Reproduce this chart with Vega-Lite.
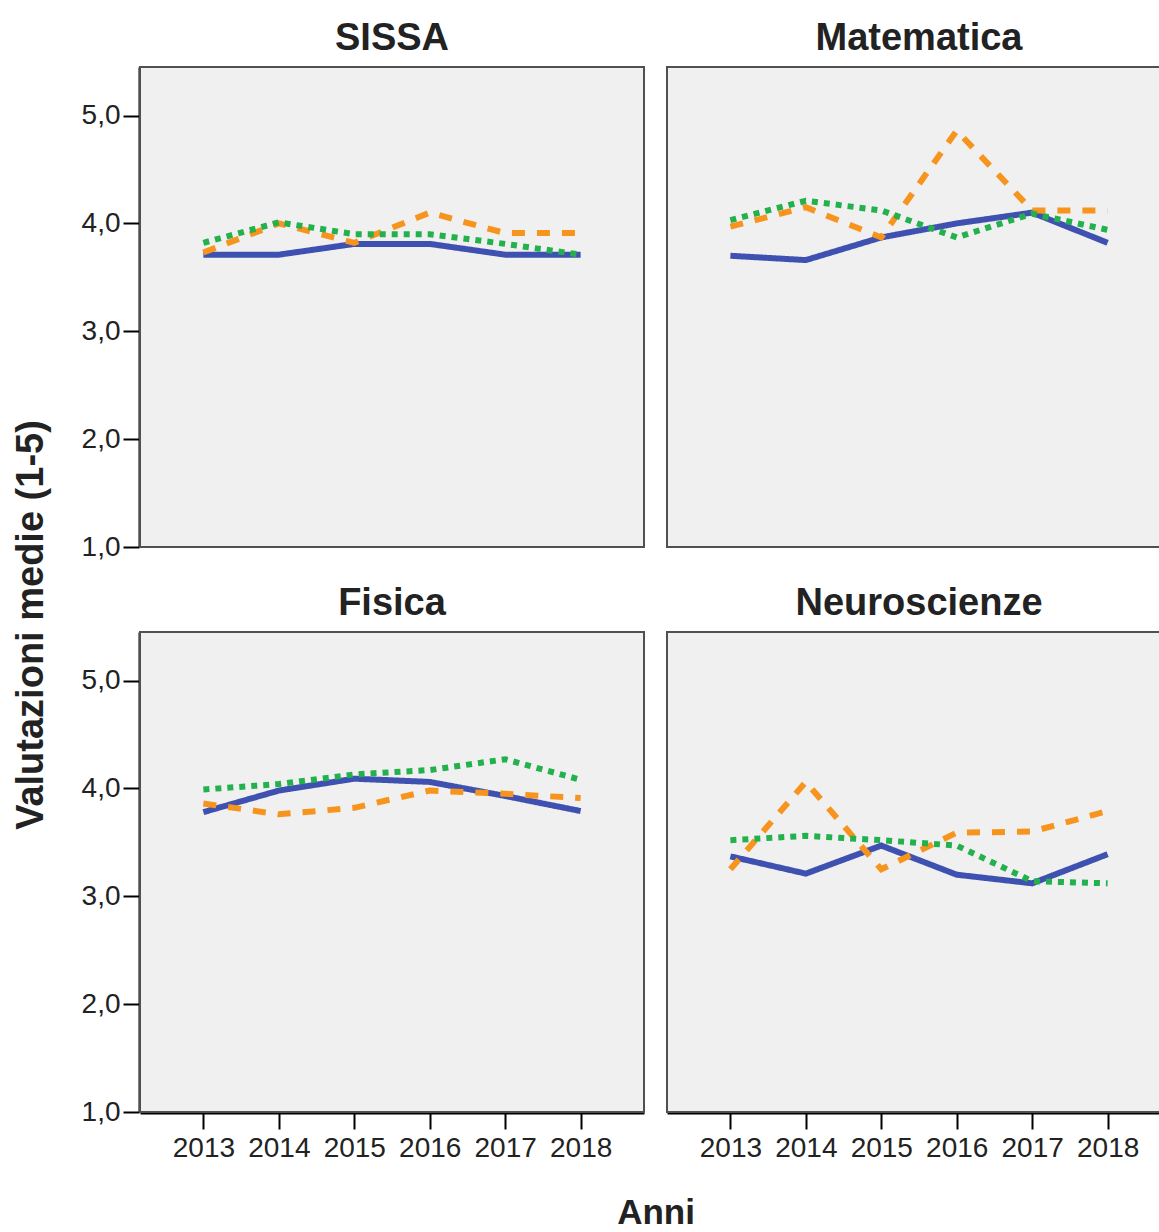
{
  "$schema": "https://vega.github.io/schema/vega-lite/v6.json",
  "background": "white",
  "padding": {"left": 13, "top": 19, "right": 0, "bottom": 0},
  "title": {
    "text": "Valutazioni medie (1-5)",
    "orient": "left",
    "anchor": "middle",
    "fontSize": 38,
    "fontWeight": "bold",
    "color": "#222",
    "offset": 30
  },
  "data": {
    "values": [
      {"corso": "SISSA", "anno": 2013, "serie": "A", "valore": 3.71},
      {"corso": "SISSA", "anno": 2014, "serie": "A", "valore": 3.71},
      {"corso": "SISSA", "anno": 2015, "serie": "A", "valore": 3.81},
      {"corso": "SISSA", "anno": 2016, "serie": "A", "valore": 3.81},
      {"corso": "SISSA", "anno": 2017, "serie": "A", "valore": 3.71},
      {"corso": "SISSA", "anno": 2018, "serie": "A", "valore": 3.71},
      {"corso": "SISSA", "anno": 2013, "serie": "B", "valore": 3.73},
      {"corso": "SISSA", "anno": 2014, "serie": "B", "valore": 4.0},
      {"corso": "SISSA", "anno": 2015, "serie": "B", "valore": 3.82},
      {"corso": "SISSA", "anno": 2016, "serie": "B", "valore": 4.1},
      {"corso": "SISSA", "anno": 2017, "serie": "B", "valore": 3.91},
      {"corso": "SISSA", "anno": 2018, "serie": "B", "valore": 3.91},
      {"corso": "SISSA", "anno": 2013, "serie": "C", "valore": 3.82},
      {"corso": "SISSA", "anno": 2014, "serie": "C", "valore": 4.01},
      {"corso": "SISSA", "anno": 2015, "serie": "C", "valore": 3.9},
      {"corso": "SISSA", "anno": 2016, "serie": "C", "valore": 3.9},
      {"corso": "SISSA", "anno": 2017, "serie": "C", "valore": 3.81},
      {"corso": "SISSA", "anno": 2018, "serie": "C", "valore": 3.71},

      {"corso": "Matematica", "anno": 2013, "serie": "A", "valore": 3.7},
      {"corso": "Matematica", "anno": 2014, "serie": "A", "valore": 3.66},
      {"corso": "Matematica", "anno": 2015, "serie": "A", "valore": 3.87},
      {"corso": "Matematica", "anno": 2016, "serie": "A", "valore": 4.0},
      {"corso": "Matematica", "anno": 2017, "serie": "A", "valore": 4.1},
      {"corso": "Matematica", "anno": 2018, "serie": "A", "valore": 3.82},
      {"corso": "Matematica", "anno": 2013, "serie": "B", "valore": 3.97},
      {"corso": "Matematica", "anno": 2014, "serie": "B", "valore": 4.15},
      {"corso": "Matematica", "anno": 2015, "serie": "B", "valore": 3.87},
      {"corso": "Matematica", "anno": 2016, "serie": "B", "valore": 4.86},
      {"corso": "Matematica", "anno": 2017, "serie": "B", "valore": 4.12},
      {"corso": "Matematica", "anno": 2018, "serie": "B", "valore": 4.12},
      {"corso": "Matematica", "anno": 2013, "serie": "C", "valore": 4.03},
      {"corso": "Matematica", "anno": 2014, "serie": "C", "valore": 4.21},
      {"corso": "Matematica", "anno": 2015, "serie": "C", "valore": 4.12},
      {"corso": "Matematica", "anno": 2016, "serie": "C", "valore": 3.87},
      {"corso": "Matematica", "anno": 2017, "serie": "C", "valore": 4.09},
      {"corso": "Matematica", "anno": 2018, "serie": "C", "valore": 3.94},

      {"corso": "Fisica", "anno": 2013, "serie": "A", "valore": 3.78},
      {"corso": "Fisica", "anno": 2014, "serie": "A", "valore": 3.98},
      {"corso": "Fisica", "anno": 2015, "serie": "A", "valore": 4.09},
      {"corso": "Fisica", "anno": 2016, "serie": "A", "valore": 4.06},
      {"corso": "Fisica", "anno": 2017, "serie": "A", "valore": 3.93},
      {"corso": "Fisica", "anno": 2018, "serie": "A", "valore": 3.79},
      {"corso": "Fisica", "anno": 2013, "serie": "B", "valore": 3.86},
      {"corso": "Fisica", "anno": 2014, "serie": "B", "valore": 3.76},
      {"corso": "Fisica", "anno": 2015, "serie": "B", "valore": 3.82},
      {"corso": "Fisica", "anno": 2016, "serie": "B", "valore": 3.98},
      {"corso": "Fisica", "anno": 2017, "serie": "B", "valore": 3.95},
      {"corso": "Fisica", "anno": 2018, "serie": "B", "valore": 3.91},
      {"corso": "Fisica", "anno": 2013, "serie": "C", "valore": 3.99},
      {"corso": "Fisica", "anno": 2014, "serie": "C", "valore": 4.04},
      {"corso": "Fisica", "anno": 2015, "serie": "C", "valore": 4.13},
      {"corso": "Fisica", "anno": 2016, "serie": "C", "valore": 4.17},
      {"corso": "Fisica", "anno": 2017, "serie": "C", "valore": 4.27},
      {"corso": "Fisica", "anno": 2018, "serie": "C", "valore": 4.08},

      {"corso": "Neuroscienze", "anno": 2013, "serie": "A", "valore": 3.37},
      {"corso": "Neuroscienze", "anno": 2014, "serie": "A", "valore": 3.21},
      {"corso": "Neuroscienze", "anno": 2015, "serie": "A", "valore": 3.47},
      {"corso": "Neuroscienze", "anno": 2016, "serie": "A", "valore": 3.2},
      {"corso": "Neuroscienze", "anno": 2017, "serie": "A", "valore": 3.12},
      {"corso": "Neuroscienze", "anno": 2018, "serie": "A", "valore": 3.39},
      {"corso": "Neuroscienze", "anno": 2013, "serie": "B", "valore": 3.25},
      {"corso": "Neuroscienze", "anno": 2014, "serie": "B", "valore": 4.06},
      {"corso": "Neuroscienze", "anno": 2015, "serie": "B", "valore": 3.25},
      {"corso": "Neuroscienze", "anno": 2016, "serie": "B", "valore": 3.59},
      {"corso": "Neuroscienze", "anno": 2017, "serie": "B", "valore": 3.6},
      {"corso": "Neuroscienze", "anno": 2018, "serie": "B", "valore": 3.79},
      {"corso": "Neuroscienze", "anno": 2013, "serie": "C", "valore": 3.52},
      {"corso": "Neuroscienze", "anno": 2014, "serie": "C", "valore": 3.56},
      {"corso": "Neuroscienze", "anno": 2015, "serie": "C", "valore": 3.52},
      {"corso": "Neuroscienze", "anno": 2016, "serie": "C", "valore": 3.47},
      {"corso": "Neuroscienze", "anno": 2017, "serie": "C", "valore": 3.14},
      {"corso": "Neuroscienze", "anno": 2018, "serie": "C", "valore": 3.12}
    ]
  },
  "facet": {
    "field": "corso",
    "type": "nominal",
    "sort": ["SISSA", "Matematica", "Fisica", "Neuroscienze"],
    "title": "Anni",
    "header": {
      "labelFontSize": 38,
      "labelFontWeight": "bold",
      "labelColor": "#222",
      "labelPadding": 9,
      "titleOrient": "bottom",
      "titleFontSize": 35,
      "titleFontWeight": "bold",
      "titleColor": "#222",
      "titlePadding": 34
    }
  },
  "columns": 2,
  "spacing": {"row": 36, "column": 21},
  "spec": {
    "width": 504,
    "height": 480,
    "mark": {"type": "line", "strokeWidth": 6, "strokeCap": "butt"},
    "encoding": {
      "x": {
        "field": "anno",
        "type": "quantitative",
        "scale": {"domain": [2012.16, 2018.84], "nice": false, "zero": false},
        "axis": {
          "title": null,
          "values": [2013, 2014, 2015, 2016, 2017, 2018],
          "format": "d",
          "labelFontSize": 28,
          "labelPadding": 5,
          "tickSize": 16
        }
      },
      "y": {
        "field": "valore",
        "type": "quantitative",
        "scale": {"domain": [1, 5.45], "nice": false, "zero": false},
        "axis": {
          "title": null,
          "values": [1, 2, 3, 4, 5],
          "labelExpr": "replace(format(datum.value, '.1f'), '.', ',')",
          "labelFontSize": 28,
          "labelPadding": 3,
          "tickSize": 16
        }
      },
      "color": {
        "field": "serie",
        "type": "nominal",
        "scale": {"domain": ["A", "B", "C"], "range": ["#3f51b0", "#f7941d", "#23b14d"]},
        "legend": null
      },
      "strokeDash": {
        "field": "serie",
        "type": "nominal",
        "scale": {"domain": ["A", "B", "C"], "range": [[1, 0], [13, 12], [6, 6]]},
        "legend": null
      }
    }
  },
  "config": {
    "font": "Liberation Sans",
    "view": {"fill": "#f0f0f0", "stroke": "#505050", "strokeWidth": 2},
    "axis": {
      "grid": false,
      "domainColor": "#000",
      "domainWidth": 2,
      "tickColor": "#000",
      "tickWidth": 2,
      "labelColor": "#222"
    }
  }
}
